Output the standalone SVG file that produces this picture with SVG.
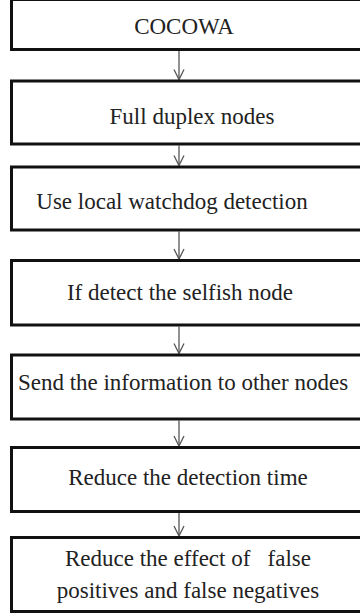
<svg xmlns="http://www.w3.org/2000/svg" width="360" height="615" viewBox="0 0 360 615">
<defs>
<style>
.box{fill:#fff;stroke:#111;stroke-width:3}
.t{font-family:"Liberation Serif","Times New Roman",serif;font-size:23px;fill:#222;white-space:pre}
.c{stroke:#555;stroke-width:1.3;fill:none}
</style>
<marker id="ah" viewBox="0 0 12 12" refX="11" refY="6" markerWidth="12" markerHeight="12" markerUnits="userSpaceOnUse" orient="auto">
<path d="M1,1 L11,6 L1,11" fill="none" stroke="#555" stroke-width="1.3"/>
</marker>
</defs>
<rect width="360" height="615" fill="#fff"/>
<g id="connectors">
<line class="c" x1="179" y1="51" x2="179" y2="79.5" marker-end="url(#ah)"/>
<line class="c" x1="179" y1="145.5" x2="179" y2="165.5" marker-end="url(#ah)"/>
<line class="c" x1="179" y1="231.5" x2="179" y2="259" marker-end="url(#ah)"/>
<line class="c" x1="179" y1="326.5" x2="179" y2="353.5" marker-end="url(#ah)"/>
<line class="c" x1="179" y1="420.5" x2="179" y2="446" marker-end="url(#ah)"/>
<line class="c" x1="179" y1="513" x2="179" y2="536" marker-end="url(#ah)"/>
</g>
<g id="n1"><rect class="box" x="11.5" y="-0.5" width="360" height="50"/><text class="t" x="184" y="34" text-anchor="middle">COCOWA</text></g>
<g id="n2"><rect class="box" x="11.5" y="81" width="360" height="63"/><text class="t" x="192" y="123.5" text-anchor="middle">Full duplex nodes</text></g>
<g id="n3"><rect class="box" x="11.5" y="167" width="360" height="63"/><text class="t" x="172" y="208.5" text-anchor="middle">Use local watchdog detection</text></g>
<g id="n4"><rect class="box" x="11.5" y="260.5" width="360" height="64.5"/><text class="t" x="180" y="299.5" text-anchor="middle">If detect the selfish node</text></g>
<g id="n5"><rect class="box" x="11.5" y="355" width="360" height="64"/><text class="t" x="183" y="390" text-anchor="middle">Send the information to other nodes</text></g>
<g id="n6"><rect class="box" x="11.5" y="447.5" width="360" height="64"/><text class="t" x="188" y="485" text-anchor="middle">Reduce the detection time</text></g>
<g id="n7"><rect class="box" x="11.5" y="537.5" width="360" height="74"/><text class="t" x="188" y="566" text-anchor="middle">Reduce the effect of   false</text><text class="t" x="188" y="598" text-anchor="middle">positives and false negatives</text></g>
</svg>
